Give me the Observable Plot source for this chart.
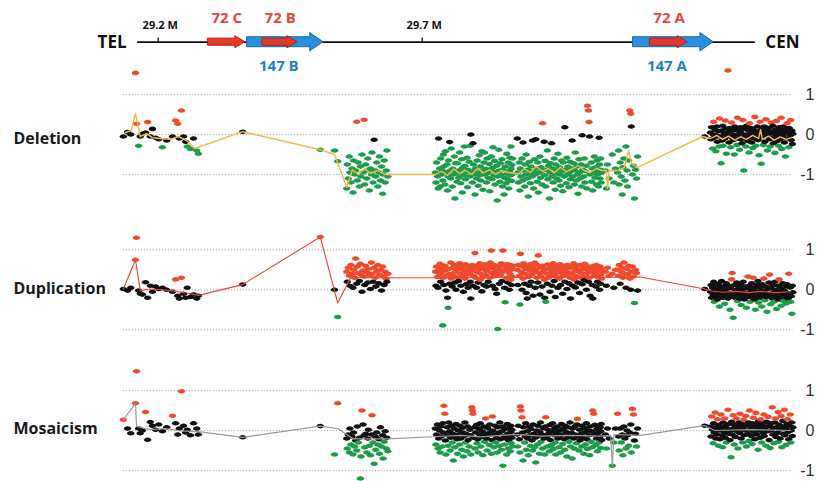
<!DOCTYPE html>
<html><head><meta charset="utf-8">
<script src="https://cdn.jsdelivr.net/npm/d3@7"></script>
<script src="https://cdn.jsdelivr.net/npm/@observablehq/plot@0.6"></script>
<style>
body{margin:0;background:#fff}
#chart{position:relative;width:818px;height:481px;background:#fff}
#chart svg{position:absolute;left:0;top:0}
</style></head><body><div id="chart"></div>
<script>
// ---------- gene map (kb on chr) ----------
const chromSpan = [29161, 30331];
const scaleTicks = [29200, 29700];
const scaleTickLabels = ["29.2 M", "29.7 M"];
const geneNames = ["72 C", "147 B", "72 B", "147 A", "72 A"];
const geneStart = [29295, 29369, 29398, 30100, 30132];
const geneEnd = [29365, 29513, 29464, 30252, 30203];
const geneFamily = ["LCR72", "LCR147", "LCR72", "LCR147", "LCR72"];
const panelNames = ["Deletion", "Duplication", "Mosaicism"];
const yTicks = [1, 0, -1];

// ---------- probe positions (kb) ----------
const posL = [29134,29142,29148,29157,29159,29163,29166,29170,29176,29180,29185,29189,29195,29201,29208,29216,29227,29233,29237,29240,29244,29248,29252,29255,29261,29267,29273,29276];
const posM = [29360,29507,29534,29540,30235];
const posE = [29557,29558,29560,29562,29563,29565,29567,29569,29570,29572,29574,29576,29577,29579,29581,29583,29584,29586,29588,29590,29591,29593,29595,29597,29598,29600,29602,29604,29605,29607,29609,29611,29612,29614,29616,29618,29619,29621,29623,29625,29626,29628,29630,29632,29633,29635];
const posA = [29725,29726,29727,29729,29730,29731,29733,29734,29735,29736,
29738,29739,29740,29741,29743,29744,29745,29747,29748,29749,
29750,29752,29753,29754,29755,29757,29758,29759,29761,29762,
29763,29764,29766,29767,29768,29769,29771,29772,29773,29775,
29776,29777,29778,29780,29781,29782,29783,29785,29786,29787,
29789,29790,29791,29792,29794,29795,29796,29797,29799,29800,
29801,29803,29804,29805,29806,29808,29809,29810,29811,29813,
29814,29815,29817,29818,29819,29820,29822,29823,29824,29825,
29827,29828,29829,29831,29832,29833,29834,29836,29837,29838,
29839,29841,29842,29843,29845,29846,29847,29848,29850,29851,
29852,29853,29855,29856,29857,29859,29860,29861,29862,29863,
29864,29865,29866,29867,29868,29868,29869,29870,29870,29871];
const posB = [29880,29881,29882,29884,29885,29886,29887,29889,29890,29891,
29892,29894,29895,29896,29897,29899,29900,29901,29903,29904,
29905,29906,29908,29909,29910,29911,29913,29914,29915,29917,
29918,29919,29920,29922,29923,29924,29925,29927,29928,29929,
29931,29932,29933,29934,29936,29937,29938,29939,29941,29942,
29943,29945,29946,29947,29948,29950,29951,29952,29953,29955,
29956,29957,29959,29960,29961,29962,29964,29965,29966,29967,
29969,29970,29971,29973,29974,29975,29976,29978,29979,29980,
29981,29983,29984,29985,29987,29988,29989,29990,29992,29993,
29994,29995,29997,29998,29999,30001,30002,30003,30004,30006,
30007,30008,30009,30011,30012,30013,30015,30016,30017,30018,
30020,30021,30022,30023,30025,30026,30027,30029,30030,30031,
30032,30033,30034,30035,30036,30037,30038,30038,30039,30040];
const posC = [30047,30049,30051,30054,30060,30063,30066,30070,30072,30073,30075,30077,30079,30080,30082,30084,30086,30088,30089,30091,30093,30095,30096,30098,30100,30102,30104,30106,30108];
const posD = [30246,30247,30248,30250,30251,30252,30253,30255,30256,30257,
30258,30259,30261,30262,30263,30264,30266,30267,30268,30269,
30270,30272,30273,30274,30275,30276,30278,30279,30280,30281,
30283,30284,30285,30286,30287,30289,30290,30291,30292,30293,
30295,30296,30297,30298,30300,30301,30302,30303,30304,30306,
30307,30308,30309,30310,30312,30313,30314,30315,30317,30318,
30319,30320,30321,30323,30324,30325,30326,30327,30329,30330,
30331,30332,30334,30335,30336,30337,30338,30340,30341,30342,
30343,30344,30346,30347,30348,30349,30351,30352,30353,30354,
30355,30357,30358,30359,30360,30361,30363,30364,30365,30366,
30368,30369,30370,30371,30372,30374,30375,30376,30377,30378,
30380,30381,30382,30383,30384,30386,30387,30388,30389,30391,
30392,30393,30394,30395,30397,30398,30399,30400,30401,30402];

// ---------- log2 ratios: Deletion ----------
const delL = [-0.05,0.06,0.0,1.54,0.27,-0.28,-0.05,0.02,0.05,0.31,-0.05,0.14,-0.08,-0.12,-0.32,-0.15,-0.05,0.35,0.27,-0.1,0.6,-0.05,-0.18,-0.3,-0.36,-0.1,-0.4,-0.48];
const delM = [0.07,-0.38,-0.4,-0.67,-0.05];
const delE = [-1.35,-0.75,-1.1,-0.55,-0.95,-1.2,-0.85,-1.45,-0.65,-1.0,-0.9,0.32,-1.15,-0.7,-1.3,-0.8,-1.05,-0.5,-0.95,0.37,-1.25,-0.75,-1.1,-0.6,-0.9,-1.4,-0.85,-1.0,-0.45,-1.2,-0.13,-0.9,-1.05,-0.7,-1.3,-0.95,-0.55,-1.15,-0.8,-1.48,-1.0,-0.65,-1.2,-0.9,-0.4,-1.05];
const delA = [-0.95,-1.2,-0.7,-1.05,-1.35,-0.1,-0.85,-1.3,-0.6,-1.0,
-0.9,-1.15,-0.5,-0.8,-1.25,-0.42,-0.95,-0.75,-1.4,-1.05,
-0.65,-0.19,-0.9,-1.1,-0.35,-1.3,-0.85,-1.0,-0.55,-1.6,
-0.72,-0.92,-1.18,-0.72,-0.98,-1.08,-0.45,-0.88,-1.22,-0.62,
-1.45,-0.82,-1.02,-0.3,-0.78,-1.12,-0.95,-0.58,-1.32,-0.88,
-0.68,-1.05,-0.28,0.0,-0.92,-1.2,-0.22,-0.75,-1.0,-1.5,
-0.85,-1.1,-0.65,-0.95,-1.28,-0.52,-1.02,-0.8,-1.15,-0.42,
-0.9,-1.38,-0.7,-0.45,-1.0,-0.86,-1.2,-0.6,-0.96,-1.08,
-0.74,-1.42,-0.9,-0.55,-1.12,-0.84,-0.32,-1.02,-0.66,-1.25,
-0.94,-0.78,-1.65,-1.05,-0.38,-0.9,-1.18,-0.72,-1.0,-0.62,
-1.3,-0.88,-1.5,-1.08,-0.8,-1.22,-0.48,-0.98,-1.12,-0.7,
-1.35,-0.92,-0.58,-1.02,-0.3,-0.86,-1.16,-0.76,-1.0,-0.6];
const delB = [-0.1,-0.95,-1.2,-0.7,-1.4,-0.85,-1.05,-0.6,-1.15,-0.2,
-0.9,-1.3,-0.75,-1.0,-0.5,-1.1,-0.88,-1.55,-0.68,-0.98,-1.22,-0.8,-1.05,
-0.15,-0.92,-1.35,-0.62,-1.0,-0.12,
-0.85,-1.18,-0.7,-1.45,-0.95,-0.55,-1.08,-0.82,-1.25,0.28,-0.9,-0.18,
-1.02,-0.66,-1.3,-0.88,-0.4,-1.12,-0.78,-1.6,-0.95,-0.72,-0.22,
-1.05,-0.85,-1.2,-0.6,-0.98,-1.38,-0.75,-1.1,-0.9,-0.48,-1.15,-0.82,-1.0,-1.28,-0.65,-0.92,-1.42,-0.7,-1.05,
0.18,-0.88,-1.22,-0.58,-1.0,-0.8,-1.32,-0.95,-0.68,-1.12,-0.85,-0.15,
-1.05,-0.72,-1.25,-0.9,-0.45,-1.15,-0.8,-1.0,-1.48,-0.62,-0.95,-1.1,-0.75,-1.3,-0.02,
-0.88,-1.05,-0.6,-1.2,-0.92,-0.78,-1.35,0.72,0.6,0.31,-0.05,
-1.0,-0.7,-1.18,-0.85,-1.4,-0.95,-0.55,-1.08,-0.82,-1.25,-0.65,-1.0,-0.9,-1.3,-0.08,
-0.75,-1.1,-0.88,-0.6,-1.2,-0.95];
const delC = [-0.9,-1.35,-0.75,-1.1,-0.5,-1.2,-0.85,-0.95,-0.4,-1.25,-0.7,-1.05,-1.5,-0.82,-0.6,-1.15,-0.3,-0.9,-1.3,-0.65,0.6,0.52,0.2,-1.0,-0.78,-1.6,-0.88,-1.1,-0.55];
const delD = [0.05,-0.12,0.18,-0.35,0.0,0.32,-0.08,0.12,-0.42,-0.02,0.2,-0.18,0.08,-0.3,0.4,-0.05,
-0.72,0.1,-0.15,0.22,-0.28,0.02,-0.1,0.35,0.15,-0.48,-0.04,1.6,
0.06,-0.2,0.16,-0.32,-0.06,0.3,0.1,-0.14,0.0,-0.5,0.2,-0.08,0.12,-0.26,0.42,-0.02,0.08,-0.38,-0.12,0.18,0.04,-0.22,0.36,-0.1,
-0.9,
0.14,-0.04,-0.3,0.22,0.0,-0.16,0.1,-0.45,0.28,-0.06,0.16,-0.2,0.04,-0.34,0.12,-0.1,0.44,0.06,-0.28,-0.02,0.2,-0.14,0.08,-0.52,0.32,0.0,
-0.73,
-0.08,0.14,-0.26,0.04,0.2,-0.18,0.38,-0.04,0.1,-0.4,
0.0,0.16,-0.12,-0.3,0.06,0.3,-0.08,0.22,-0.22,0.02,
-0.46,0.12,-0.06,0.34,-0.16,0.08,-0.28,0.18,0.0,-0.12,
0.42,-0.36,0.1,-0.04,0.2,-0.2,0.04,-0.55,0.14,0.28,
-0.1,0.06,-0.32,0.16,-0.02,0.36,-0.14,0.1,-0.24,0.02];

// ---------- Duplication ----------
const dupL = [0.02,-0.02,0.05,0.75,1.3,-0.02,-0.1,-0.12,0.19,-0.2,0.1,-0.05,0.08,0.02,0.05,0.0,-0.05,0.26,-0.15,-0.22,0.3,-0.1,-0.2,0.05,-0.18,-0.12,-0.22,-0.15];
const dupM = [0.13,1.32,0.0,-0.68,0.02];
const dupE = [0.45,0.2,0.55,0.35,0.1,0.62,0.4,0.05,0.5,0.3,0.78,0.15,0.58,0.42,0.22,0.65,0.38,-0.05,0.48,0.33,0.12,0.6,0.44,0.18,0.52,0.36,0.02,0.68,0.4,0.2,0.55,0.3,0.08,0.47,0.62,0.16,0.38,0.5,-0.02,0.58,0.34,0.12,0.45,0.28,0.2,0.4];
const dupA = [0.45,0.1,0.58,0.32,0.05,0.5,0.38,0.65,0.2,0.42,0.55,-0.89,
0.3,0.12,0.6,0.48,-0.02,0.36,-0.2,-0.45,
0.52,0.15,0.4,0.68,0.28,0.08,0.55,0.35,0.62,0.18,
0.45,0.0,0.58,0.3,0.5,0.22,0.66,0.4,0.1,0.54,
0.34,0.6,-0.05,0.46,0.28,0.64,0.14,0.5,0.38,0.05,
0.57,0.42,0.2,-0.22,0.48,0.62,0.1,0.35,0.55,0.92,
0.3,0.05,0.6,0.44,0.18,0.52,0.66,0.25,0.4,-0.04,
0.58,0.32,0.12,0.5,0.64,0.36,0.08,0.46,0.6,0.2,
0.54,0.3,0.68,0.98,0.42,0.1,0.56,0.34,0.62,0.02,0.48,-0.1,0.4,-0.98,
0.58,0.15,0.5,0.36,0.66,0.22,0.44,0.98,0.6,0.05,-0.31,
0.52,0.3,0.64,0.18,0.46,0.58,0.0,0.4,0.62,0.25,0.5,0.12,0.56,0.34,0.6];
const dupB = [0.5,0.12,0.62,0.35,-0.37,0.9,
0.45,0.0,0.58,0.28,0.66,0.15,0.4,0.52,-0.08,-0.22,
0.6,0.32,0.1,0.48,0.64,0.2,0.38,0.55,-0.15,0.44,0.68,0.05,0.5,0.3,0.62,0.18,0.86,
0.42,-0.12,0.56,0.34,0.08,0.6,0.46,0.25,-0.2,0.52,-0.3,
0.4,0.15,0.63,0.3,0.5,-0.05,0.58,0.36,0.1,0.45,
0.66,0.22,0.4,-0.18,0.54,0.32,0.6,0.05,0.48,0.28,
0.64,0.12,0.42,0.56,-0.1,0.35,0.6,0.2,0.5,0.38,
0.02,0.62,0.44,0.16,0.55,0.3,-0.22,0.58,0.4,0.1,
0.66,0.26,0.48,0.06,0.52,0.34,0.6,0.18,0.45,-0.08,
0.62,0.3,0.5,0.14,0.4,0.57,0.24,0.65,0.36,0.0,
0.5,0.42,0.2,0.58,0.3,-0.15,0.55,0.44,0.12,-0.22,
0.6,0.35,0.5,0.08,0.62,0.4,0.2,0.56,0.3,0.45,0.0,0.58,0.38,0.15,0.52,0.28];
const dupC = [0.45,0.1,0.55,0.35,0.4,0.05,0.5,0.5,0.35,0.62,0.15,0.45,0.55,0.3,0.68,0.4,0.05,0.52,0.38,0.6,0.28,0.0,0.45,0.58,0.33,-0.33,0.5,0.42,-0.02];
const dupD = [-0.05,0.12,-0.2,0.05,-0.12,0.2,-0.3,-0.02,0.1,-0.16,
0.0,-0.24,0.15,-0.08,-0.42,0.06,-0.14,0.22,-0.04,-0.2,
0.08,-0.1,-0.35,0.02,-0.18,0.16,-0.06,-0.22,0.1,-0.12,
-0.5,0.04,-0.16,0.26,0.42,-0.7,
-0.08,0.12,-0.2,0.0,-0.14,0.18,-0.28,-0.04,0.06,-0.22,
-0.1,0.14,-0.38,0.02,-0.16,0.2,-0.06,-0.24,0.08,-0.12,-0.45,0.04,0.33,
-0.18,0.1,-0.08,-0.3,0.0,0.16,-0.2,-0.12,0.3,0.05,
-0.24,-0.5,-0.04,0.12,-0.16,0.22,-0.32,-0.08,0.06,-0.2,
-0.02,-0.42,0.14,-0.12,0.28,-0.06,-0.26,0.08,-0.18,-0.55,
0.02,-0.1,0.18,0.38,
-0.14,-0.36,0.04,-0.22,0.12,-0.06,-0.3,0.2,-0.16,0.0,
-0.48,-0.1,0.1,-0.24,0.26,-0.04,-0.2,-0.4,0.06,-0.12,
0.16,-0.28,-0.02,0.08,-0.18,-0.34,0.14,-0.08,-0.22,0.4,
-0.1,0.06,-0.3,-0.16,-0.6,0.1,-0.06];

// ---------- Mosaicism ----------
const mosL = [0.27,0.05,-0.07,0.68,1.48,0.05,-0.07,0.0,0.46,-0.23,0.21,0.12,0.02,0.15,-0.02,0.08,0.37,0.18,-0.1,0.05,0.98,0.12,-0.05,0.02,-0.12,0.18,0.05,-0.1];
const mosM = [-0.17,0.11,-0.6,0.68,0.12];
const mosE = [-0.2,-0.45,-0.1,-0.55,0.05,-0.35,-0.15,-0.6,-0.05,-0.4,-0.25,-0.5,0.1,-0.3,-0.18,-1.2,-0.65,0.5,0.15,-0.12,-0.42,-0.08,-0.55,-0.2,0.02,-0.38,-0.62,-0.1,0.38,-0.3,-0.83,-0.15,-0.48,-0.05,-0.35,-0.22,-0.58,0.08,-0.4,-0.12,-0.7,-0.28,-0.02,-0.45,-0.18,-0.52];
const mosA = [0.05,-0.35,-0.1,0.15,-0.45,-0.2,0.0,-0.55,0.1,-0.15,-0.4,0.18,-0.05,0.62,0.42,
-0.25,-0.6,0.08,-0.12,-0.38,0.2,-0.02,-0.5,-0.18,0.12,-0.3,-0.08,-0.75,
0.05,-0.42,-0.15,0.16,-0.22,-0.58,0.0,-0.1,-0.35,0.12,
-0.2,-0.48,0.06,-0.05,-0.65,-0.14,0.2,-0.3,-0.08,-0.52,
0.1,-0.24,-0.4,0.02,-0.12,-0.6,0.58,0.5,0.42,
-0.18,0.08,-0.45,-0.05,0.14,-0.32,-0.22,-0.55,0.04,-0.1,
0.18,-0.4,-0.16,-0.02,-0.62,0.1,-0.28,-0.08,0.3,
-0.2,-0.5,0.06,-0.12,-0.36,0.15,-0.04,-0.58,-0.24,0.35,
0.0,-0.42,-0.1,0.12,-0.3,-0.18,-0.55,0.08,-0.06,-0.38,0.2,-0.22,-0.48,-0.02,0.1,-0.88,
-0.14,-0.35,0.04,-0.2,-0.6,0.16,-0.08,-0.45,-0.25,0.06,-0.12,-0.52,0.12,-0.04,-0.32,-0.18,0.02,-0.4];
const mosB = [-0.1,-0.4,0.12,-0.22,-0.55,0.6,0.5,0.33,-0.05,-0.75,
0.08,-0.3,-0.15,0.18,-0.48,-0.02,-0.2,-0.62,0.1,-0.12,-0.38,0.04,-0.25,-0.5,0.15,-0.08,-0.42,-0.18,-0.8,
0.0,-0.35,0.12,-0.14,-0.58,-0.04,0.2,-0.28,-0.1,-0.45,0.06,-0.2,-0.6,0.1,0.33,
-0.16,-0.4,0.02,-0.08,-0.52,0.14,-0.24,-0.36,-0.02,0.18,
-0.46,-0.12,0.06,-0.3,-0.6,-0.06,0.1,-0.2,-0.42,0.0,
-0.14,-0.55,0.16,-0.1,-0.34,0.04,-0.22,-0.48,0.12,-0.04,
-0.65,-0.18,0.08,-0.28,-0.12,0.2,-0.4,-0.06,-0.7,
0.05,-0.2,-0.45,0.1,-0.1,-0.32,0.15,0.29,
-0.15,-0.5,0.02,-0.25,-0.08,-0.4,0.12,-0.18,-0.58,0.06,
-0.05,-0.35,0.18,-0.22,-0.46,0.0,-0.12,-0.62,0.1,-0.28,-0.02,-0.42,0.5,0.42,
-0.1,0.14,-0.36,-0.2,0.04,-0.52,-0.06,0.1,-0.3,-0.16,0.08,-0.44,-0.02,0.16,-0.24];
const mosC = [-0.1,-0.45,0.05,-0.2,-0.88,-0.3,0.05,0.42,-0.15,-0.5,0.05,-0.3,-0.1,-0.62,0.1,-0.2,-0.45,0.0,-0.12,-0.38,-0.05,0.15,-0.55,0.54,0.4,-0.25,-0.08,-0.4,0.05];
const mosD = [0.1,-0.15,0.35,0.02,-0.32,0.18,-0.05,0.45,-0.2,0.08,
-0.1,0.28,-0.38,0.14,0.0,-0.22,0.4,0.06,-0.12,-0.42,
0.2,-0.04,0.3,-0.18,0.12,-0.3,0.04,0.52,-0.08,0.16,-0.24,0.0,-0.67,
0.22,-0.1,0.38,0.06,-0.35,0.14,-0.16,0.3,-0.02,0.1,
-0.45,0.2,-0.06,0.42,0.04,-0.2,0.16,-0.3,0.08,0.26,
-0.12,0.0,0.36,-0.4,0.12,-0.08,0.2,-0.26,0.5,0.02,
-0.14,0.1,-0.34,0.18,0.32,-0.04,-0.22,0.06,0.44,-0.1,
0.14,-0.48,0.24,0.0,-0.18,0.28,0.08,-0.3,0.16,-0.06,
0.4,-0.14,0.04,-0.38,0.22,0.1,-0.02,0.34,-0.24,0.12,
-0.44,0.18,0.0,0.58,-0.1,0.06,-0.32,0.2,0.3,-0.16,
0.08,-0.06,0.46,-0.28,0.14,0.02,-0.2,0.36,-0.42,0.1,
0.24,-0.08,0.52,-0.12,0.04,-0.36,0.16,0.28,-0.04,-0.22,
0.12,0.4,-0.3,0.0,0.2,-0.14,0.08];

// ---------- segmentation lines [kb, log2 ratio] ----------
const delLine = [[29138,0.05],[29149,0.1],[29157,0.53],[29166,-0.05],[29178,0.02],[29189,-0.08],[29204,-0.1],[29223,-0.12],[29238,-0.05],[29254,-0.15],[29269,-0.35],[29360,0.07],[29507,-0.38],[29534,-0.5],[29557,-1.32],[29568,-0.88],[29579,-1.0],[29591,-0.85],[29602,-0.97],[29615,-0.9],[29629,-1.0],[29725,-1.0],[29737,-0.92],[29748,-1.02],[29760,-0.86],[29771,-0.98],[29782,-0.9],[29794,-1.0],[29805,-0.84],[29816,-0.96],[29828,-0.88],[29839,-1.0],[29850,-0.9],[29863,-0.95],[29882,-0.98],[29893,-0.86],[29905,-0.95],[29916,-0.8],[29928,-0.92],[29939,-0.85],[29950,-0.96],[29962,-0.82],[29973,-0.93],[29984,-0.86],[29996,-0.78],[30007,-0.9],[30018,-0.95],[30030,-0.85],[30041,-0.9],[30049,-0.9],[30051,-1.35],[30054,-0.9],[30071,-0.9],[30083,-0.82],[30091,-0.4],[30096,-0.72],[30108,-0.82],[30231,-0.05],[30246,-0.1],[30258,-0.02],[30269,-0.12],[30280,-0.04],[30292,-0.14],[30303,-0.06],[30314,-0.12],[30326,-0.02],[30337,-0.1],[30341,0.12],[30344,-0.12],[30356,-0.04],[30367,-0.14],[30378,-0.06],[30390,-0.12],[30399,-0.08]];
const dupLine = [[29134,0.02],[29157,0.75],[29166,-0.02],[29185,0.02],[29208,0.0],[29233,-0.04],[29254,-0.08],[29276,-0.14],[29360,0.13],[29507,1.32],[29540,-0.33],[29568,0.4],[29579,0.3],[29632,0.3],[29730,0.3],[30113,0.32],[30235,0.02],[30248,-0.03],[30269,-0.06],[30294,-0.04],[30318,-0.07],[30341,-0.04],[30369,-0.07],[30398,-0.05]];
const mosLine = [[29134,0.27],[29157,0.68],[29159,0.1],[29185,0.02],[29214,0.05],[29242,-0.01],[29276,-0.03],[29360,-0.17],[29507,0.11],[29540,0.05],[29570,-0.21],[29634,-0.21],[29730,-0.15],[29773,-0.12],[29811,-0.16],[29849,-0.12],[29880,-0.1],[29925,-0.14],[29981,-0.12],[30038,-0.14],[30057,-0.12],[30060,-0.88],[30063,-0.1],[30113,-0.12],[30235,0.12],[30254,0.0],[30322,0.02],[30398,0.0]];

// ---------- layout / styles ----------
const W = 818, H = 481;
const GREEN = "#1e9b4b", BLACK = "#111111", RED = "#ef4a2b";
const xScale = {domain: [29200, 29700], range: [157.7, 421.7], axis: null};
const famStyle = {
  LCR72: {fill: "#e5392a", stroke: "#a9251a", h: 0.085, hh: 0.145, head: 19, labelY: 0.57, text: "#e2463c"},
  LCR147: {fill: "#2a8fdc", stroke: "#1b6cae", h: 0.12, hh: 0.22, head: 25, labelY: -0.58, text: "#1f80d0"}
};
const ellipse = {
  draw(ctx, size) {
    const r = Math.sqrt(size / Math.PI), rx = r * 1.32, ry = r * 0.82, k = 0.5523;
    ctx.moveTo(rx, 0);
    ctx.bezierCurveTo(rx, ry * k, rx * k, ry, 0, ry);
    ctx.bezierCurveTo(-rx * k, ry, -rx, ry * k, -rx, 0);
    ctx.bezierCurveTo(-rx, -ry * k, -rx * k, -ry, 0, -ry);
    ctx.bezierCurveTo(rx * k, -ry, rx, -ry * k, rx, 0);
    ctx.closePath();
  }
};
const chart = document.getElementById("chart");
const svgStyle = {background: "transparent", overflow: "visible"};

// ---------- header: gene map ----------
const genes = geneNames.map((name, i) => ({name, start: geneStart[i], end: geneEnd[i], fam: geneFamily[i]}));
const arrowRows = genes.flatMap(g => {
  const s = famStyle[g.fam], b = g.end - s.head;
  return [
    {gene: g.name, x: g.start, y1: -s.h, y2: s.h, fill: s.fill, stroke: s.stroke},
    {gene: g.name, x: b, y1: -s.h, y2: s.h, fill: s.fill, stroke: s.stroke},
    {gene: g.name, x: b, y1: -s.hh, y2: s.hh, fill: s.fill, stroke: s.stroke},
    {gene: g.name, x: g.end, y1: 0, y2: 0, fill: s.fill, stroke: s.stroke}
  ];
});
const header = Plot.plot({
  width: W, height: H, margin: 0, style: svgStyle,
  x: xScale,
  y: {domain: [-1, 1], range: [83.4, 0], axis: null},
  color: {type: "identity"},
  marks: [
    Plot.ruleY([0], {x1: chromSpan[0], x2: chromSpan[1], stroke: "#111", strokeWidth: 1.7}),
    Plot.ruleX(scaleTicks, {x: d => d, y1: 0, y2: 0.1, stroke: "#111", strokeWidth: 1.3}),
    Plot.text(scaleTicks, {x: d => d, y: () => 0.4, text: (d, i) => scaleTickLabels[i], fontSize: 11, fontWeight: 700, fontFamily: "Open Sans", fill: "#111", dx: 2}),
    Plot.area(arrowRows, {x1: "x", y1: "y1", y2: "y2", z: "gene", fill: "fill", stroke: "stroke", strokeWidth: 1, curve: "linear"}),
    Plot.text(genes, {
      x: g => g.fam === "LCR72" ? (g.start + g.end) / 2 : (g.start + g.end - famStyle[g.fam].head) / 2,
      y: g => famStyle[g.fam].labelY, text: "name", fill: g => famStyle[g.fam].text,
      fontSize: 15, fontWeight: 700, fontFamily: "Open Sans"
    }),
    Plot.text(["TEL"], {x: () => chromSpan[0], y: () => 0, dx: -11, textAnchor: "end", fontSize: 17, fontWeight: 700, fontFamily: "Open Sans", fill: "#111"}),
    Plot.text(["CEN"], {x: () => chromSpan[1], y: () => 0, dx: 10, textAnchor: "start", fontSize: 17, fontWeight: 700, fontFamily: "Open Sans", fill: "#111"})
  ]
});
chart.append(header);

// ---------- data panels ----------
const posRegions = [posL, posM, posE, posA, posB, posC, posD];
function probes(valRegions) {
  return posRegions.flatMap((p, i) => d3.zip(p, valRegions[i]).map(([pos, v]) => ({pos, v})));
}
const allPos = posRegions.flat();
const gridX1 = d3.min(allPos), gridX2 = d3.max(allPos);

function panel(name, data, line, lineColor, lineWidth, zeroPx, labelDy) {
  return Plot.plot({
    width: W, height: H, marginLeft: 13, marginRight: 28, marginTop: 0, marginBottom: 0, style: svgStyle,
    x: xScale,
    y: {domain: [-1, 1], range: [zeroPx + 40, zeroPx - 40], axis: null},
    color: {type: "threshold", domain: [-0.25, 0.25], range: [GREEN, BLACK, RED]},
    marks: [
      Plot.ruleY(yTicks, {x1: gridX1, x2: gridX2, stroke: "#b3b3b3", strokeWidth: 1.2, strokeDasharray: "1.2,1.8"}),
      Plot.dot(data, {x: "pos", y: "v", fill: "v", r: 2.8, symbol: ellipse}),
      Plot.line(line, {x: d => d[0], y: d => d[1], stroke: lineColor, strokeWidth: lineWidth, curve: "linear"}),
      Plot.text(yTicks, {y: d => d, text: d => String(d), frameAnchor: "right", dx: 24, textAnchor: "end", fontSize: 16, fill: "#333", fontFamily: "Liberation Sans, Arial, sans-serif"}),
      Plot.text([name], {frameAnchor: "left", y: () => 0, dy: labelDy, text: d => d, textAnchor: "start", fontSize: 16, fontWeight: 700, fontFamily: "Open Sans", fill: "#1a1a1a"})
    ]
  });
}
chart.append(panel(panelNames[0], probes([delL, delM, delE, delA, delB, delC, delD]), delLine, "#f4b84c", 1.4, 134, 4));
chart.append(panel(panelNames[1], probes([dupL, dupM, dupE, dupA, dupB, dupC, dupD]), dupLine, "#ee4336", 1.1, 289.3, -1));
chart.append(panel(panelNames[2], probes([mosL, mosM, mosE, mosA, mosB, mosC, mosD]), mosLine, "#9a9a9a", 1.2, 430, -2));
</script></body></html>
